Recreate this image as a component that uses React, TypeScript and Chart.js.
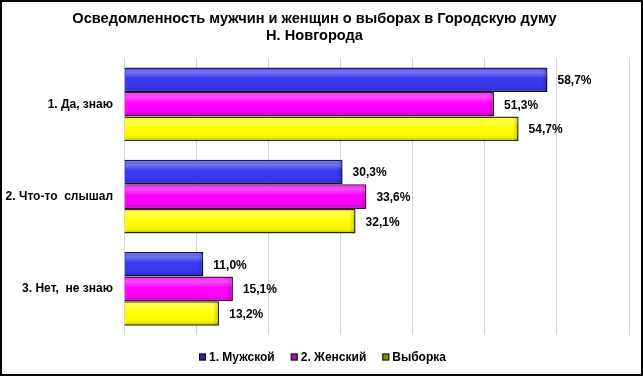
import React, { useEffect, useRef } from "react";
import { Chart, registerables } from "chart.js";

Chart.register(...registerables);

const categories = ["1. Да, знаю", "2. Что-то  слышал", "3. Нет,  не знаю"];
const seriesNames = ["1. Мужской", "2. Женский", "Выборка"];
const maleValues = [58.7, 30.3, 11.0];
const femaleValues = [51.3, 33.6, 15.1];
const sampleValues = [54.7, 32.1, 13.2];
const fillColors = ["#3838F0", "#FF00FF", "#FFFF00"];
const borderColors = ["#101040", "#401040", "#333300"];
const legendBoxColors = ["#2a2a9a", "#9a1a9a", "#8a8a10"];
const titleLines = [
  "Осведомленность мужчин и женщин о выборах в Городскую думу",
  "Н. Новгорода",
];

const FONT = "'Liberation Sans', Arial, sans-serif";

const fmt = (v: number) => v.toFixed(1).replace(".", ",") + "%";

const decorPlugin = {
  id: "decor",
  beforeDraw(chart: any) {
    const { ctx, width, height } = chart;
    ctx.save();
    ctx.fillStyle = "#ffffff";
    ctx.fillRect(0, 0, width, height);
    ctx.restore();
  },
  afterDatasetsDraw(chart: any) {
    const { ctx } = chart;
    ctx.save();
    chart.data.datasets.forEach((ds: any, di: number) => {
      const meta = chart.getDatasetMeta(di);
      meta.data.forEach((bar: any, i: number) => {
        const p = bar.getProps(["x", "y", "base", "height"], true);
        const top = p.y - p.height / 2;
        const left = p.base;
        const w = p.x - p.base;
        const g = ctx.createLinearGradient(0, top, 0, top + p.height);
        g.addColorStop(0, "rgba(255,255,255,0.10)");
        g.addColorStop(0.2, "rgba(255,255,255,0.30)");
        g.addColorStop(0.45, "rgba(255,255,255,0.0)");
        g.addColorStop(0.85, "rgba(0,0,0,0.05)");
        g.addColorStop(1, "rgba(0,0,0,0.30)");
        ctx.fillStyle = g;
        ctx.fillRect(left + 1, top + 1, w - 2, p.height - 2);
        const gr = ctx.createLinearGradient(p.x - 6, 0, p.x, 0);
        gr.addColorStop(0, "rgba(0,0,0,0)");
        gr.addColorStop(1, "rgba(0,0,0,0.22)");
        ctx.fillStyle = gr;
        ctx.fillRect(p.x - 6, top + 1, 5, p.height - 2);
        ctx.fillStyle = "#000";
        ctx.font = `bold 12px ${FONT}`;
        ctx.textAlign = "left";
        ctx.textBaseline = "middle";
        ctx.fillText(fmt(ds.data[i]), p.x + 10, p.y + 1);
      });
    });
    ctx.restore();
  },
  afterDraw(chart: any) {
    const { ctx } = chart;
    ctx.save();
    // custom legend
    ctx.font = `bold 12px ${FONT}`;
    ctx.textBaseline = "middle";
    ctx.textAlign = "left";
    const box = 7, gapText = 3, gapItem = 16;
    const widths = seriesNames.map((s) => ctx.measureText(s).width);
    const total =
      widths.reduce((a, w) => a + box + gapText + w, 0) + gapItem * (seriesNames.length - 1);
    let x = Math.round(322 - total / 2);
    const yc = 357;
    seriesNames.forEach((s, i) => {
      ctx.fillStyle = legendBoxColors[i];
      ctx.fillRect(x, yc - 3.5, box, box);
      ctx.strokeStyle = "#111";
      ctx.lineWidth = 1;
      ctx.strokeRect(x + 0.5, yc - 3.5 + 0.5, box - 1, box - 1);
      ctx.fillStyle = "#000";
      ctx.fillText(s, x + box + gapText, yc + 1);
      x += box + gapText + widths[i] + gapItem;
    });
    ctx.strokeStyle = "#000";
    ctx.lineWidth = 2;
    ctx.strokeRect(1, 1, 641, 374);
    ctx.restore();
  },
};

export default function App() {
  const ref = useRef<HTMLCanvasElement>(null);
  useEffect(() => {
    document.body.style.margin = "0";
    const chart = new Chart(ref.current!, {
      type: "bar",
      data: {
        labels: categories,
        datasets: [maleValues, femaleValues, sampleValues].map((d, i) => ({
          label: seriesNames[i],
          data: d,
          backgroundColor: fillColors[i],
          borderColor: borderColors[i],
          borderWidth: 1.5,
          barPercentage: 1.0,
          categoryPercentage: 0.8,
        })),
      },
      options: {
        indexAxis: "y",
        animation: false,
        responsive: false,
        maintainAspectRatio: false,
        layout: { padding: { left: 0, right: 14, top: 0, bottom: 43 } },
        scales: {
          x: {
            min: 0,
            max: 70,
            ticks: { display: false, stepSize: 10 },
            grid: { color: "#d4d4d4", drawTicks: false, lineWidth: 1 },
            border: { display: false },
          },
          y: {
            ticks: {
              color: "#000",
              padding: 11,
              font: { family: FONT, size: 12, weight: "bold" },
            },
            grid: { display: false, drawTicks: false },
            border: { display: false },
            afterFit(scale: any) {
              scale.width = 124;
            },
          },
        },
        plugins: {
          title: {
            display: true,
            text: titleLines,
            color: "#000",
            font: { family: FONT, size: 14.6, weight: "bold", lineHeight: 1.17 },
            padding: { top: 10, bottom: 14 },
          },
          legend: { display: false },
          tooltip: { enabled: false },
        },
      },
      plugins: [decorPlugin],
    });
    return () => chart.destroy();
  }, []);
  return (
    <div style={{ position: "absolute", left: 0, top: 0, width: 643, height: 378 }}>
      <canvas ref={ref} width={643} height={378} style={{ width: 643, height: 378, display: "block" }} />
    </div>
  );
}
